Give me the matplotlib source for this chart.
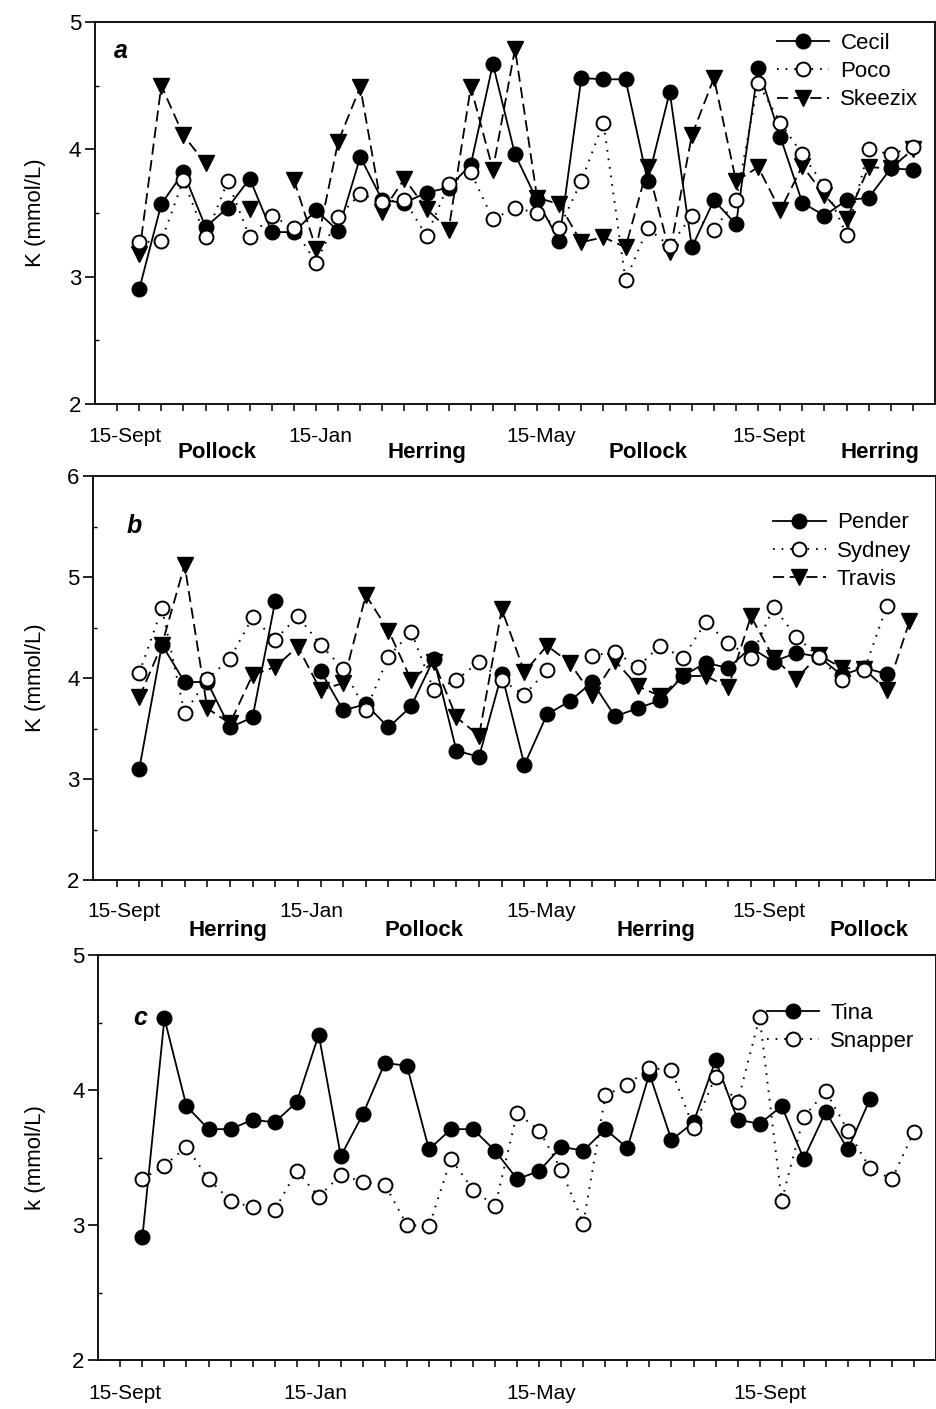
import numpy as np
import matplotlib
matplotlib.use("Agg")
import matplotlib.pyplot as plt

plt.rcParams['font.family'] = ['Liberation Sans', 'DejaVu Sans']
plt.rcParams['lines.scale_dashes'] = False

nan = np.nan

# ---------------- Panel a ----------------
cecil = [2.90, 3.57, 3.82, 3.39, 3.54, 3.77, 3.35, 3.35, 3.52, 3.36, 3.94, 3.60,
         3.58, 3.66, 3.70, 3.88, 4.67, 3.96, 3.60, 3.28, 4.56, 4.55, 4.55, 3.75,
         4.45, 3.23, 3.60, 3.41, 4.64, 4.10, 3.58, 3.48, 3.60, 3.62, 3.85, 3.84]
poco = [3.27, 3.28, 3.76, 3.31, 3.75, 3.31, 3.48, 3.38, 3.11, 3.47, 3.65, 3.59,
        3.60, 3.32, 3.73, 3.82, 3.45, 3.54, 3.50, 3.38, 3.75, 4.21, 2.97, 3.38,
        3.24, 3.48, 3.37, 3.60, 4.52, 4.21, 3.96, 3.71, 3.33, 4.00, 3.96, 4.02]
skeezix = [3.18, 4.50, 4.11, 3.89, nan, 3.53, nan, 3.76, 3.22, 4.06, 4.49, 3.51,
           3.77, 3.53, 3.37, 4.49, 3.84, 4.79, 3.62, 3.57, 3.27, 3.31, 3.23, 3.86,
           3.19, 4.11, 4.56, 3.75, 3.86, 3.52, 3.87, 3.64, 3.45, 3.86, 3.85, 4.00]

# ---------------- Panel b ----------------
pender = [3.10, 4.33, 3.96, 3.96, 3.51, 3.61, 4.76, nan, 4.07, 3.68, 3.74, 3.51,
          3.72, 4.19, 3.28, 3.22, 4.04, 3.14, 3.64, 3.77, 3.96, 3.62, 3.70, 3.78,
          4.02, 4.15, 4.10, 4.30, 4.16, 4.25, 4.21, 4.03, 4.10, 4.04]
sydney = [4.05, 4.69, 3.65, 3.99, 4.19, 4.60, 4.38, 4.61, 4.33, 4.09, 3.68, 4.21,
          4.46, 3.88, 3.98, 4.16, 3.98, 3.83, 4.08, nan, 4.22, 4.26, 4.11, 4.32,
          4.20, 4.55, 4.35, 4.20, 4.70, 4.41, 4.21, 3.98, 4.08, 4.71]
travis = [3.81, 4.33, 5.12, 3.70, 3.55, 4.03, 4.11, 4.31, 3.88, 3.95, 4.82, 4.47,
          3.98, 4.16, 3.61, 3.43, 4.68, 4.06, 4.32, 4.15, 3.83, 4.17, 3.92, 3.82,
          4.02, 4.02, 3.91, 4.61, 4.20, 3.99, 4.23, 4.10, 4.09, 3.88, 4.56]

# ---------------- Panel c ----------------
tina = [2.91, 4.53, 3.88, 3.71, 3.71, 3.78, 3.76, 3.91, 4.41, 3.51, 3.82, 4.20,
        4.18, 3.56, 3.71, 3.71, 3.55, 3.34, 3.40, 3.58, 3.55, 3.71, 3.57, 4.12,
        3.63, 3.76, 4.22, 3.78, 3.75, 3.88, 3.49, 3.84, 3.56, 3.93]
snapper = [3.34, 3.44, 3.58, 3.34, 3.18, 3.13, 3.11, 3.40, 3.21, 3.37, 3.32, 3.30,
           3.00, 2.99, 3.49, 3.26, 3.14, 3.83, 3.70, 3.41, 3.01, 3.96, 4.04, 4.16,
           4.15, 3.72, 4.10, 3.91, 4.54, 3.18, 3.80, 3.99, 3.70, 3.42, 3.34, 3.69]

# Axis labels (sampling-period positions)
date_labels = ['15-Sept', '15-Jan', '15-May', '15-Sept']
date_pos_a = [-0.65, 8.2, 18.2, 28.5]
date_pos_b = [-0.66, 7.6, 17.75, 27.8]
date_pos_c = [-0.8, 7.86, 18.1, 28.45]
diet_labels_a = ['Pollock', 'Herring', 'Pollock', 'Herring']
diet_pos_a = [3.5, 13.0, 23.0, 33.5]
diet_labels_b = ['Herring', 'Pollock', 'Herring', 'Pollock']
diet_pos_b = [3.9, 12.55, 22.8, 32.2]

fig = plt.figure(figsize=(9.37, 14.09), dpi=100)
W, H = 937.0, 1409.0


def make_ax(l, r, t, b):
    return fig.add_axes([l / W, 1 - b / H, (r - l) / W, (b - t) / H])


axa = make_ax(95, 935, 22, 404)
axb = make_ax(93.3, 936, 476, 880)
axc = make_ax(98.3, 936, 955, 1360)

LW = 1.3
solid_kw = dict(color='black', lw=LW, marker='o', ms=10.5, mfc='black', mec='black')
open_kw = dict(color='black', lw=1.4, ls=(0, (1.2, 5.0)), marker='o', ms=10,
               mfc='white', mec='black', mew=1.4)
tri_kw = dict(color='black', lw=LW, ls=(0, (8, 4)), marker='v', ms=11.5,
              mfc='black', mec='black')


def style(ax, ylim, ylabel, ticks_x, xlim, lab_x):
    ax.set_xlim(*xlim)
    ax.set_ylim(*ylim)
    ax.set_yticks(np.arange(ylim[0], ylim[1] + 0.01, 1))
    ax.set_yticks(np.arange(ylim[0], ylim[1] + 0.01, 0.5), minor=True)
    ax.set_xticks(ticks_x)
    ax.set_xticklabels([])
    ax.tick_params(axis='y', which='major', direction='out', length=7, width=1.2,
                   labelsize=16, pad=3)
    ax.tick_params(axis='y', which='minor', direction='in', length=3, width=1.0)
    ax.tick_params(axis='x', which='major', direction='out', length=5, width=1.1)
    for s in ax.spines.values():
        s.set_linewidth(1.3)
    ax.set_ylabel(ylabel, fontsize=16)
    ax.yaxis.set_label_coords(lab_x, 0.5)


def add_labels(ax, labels, pos, bold, dy):
    for lab, p in zip(labels, pos):
        ax.annotate(lab, xy=(p, 0), xycoords=('data', 'axes fraction'),
                    xytext=(0, -dy), textcoords='offset points',
                    ha='center', va='baseline', fontsize=16 if bold else 15,
                    fontweight='bold' if bold else 'normal')


leg_kw = dict(loc='upper left', frameon=False, fontsize=16, handlelength=2.35,
              handletextpad=0.5, labelspacing=0.33, borderpad=0,
              borderaxespad=0, numpoints=1)

# Panel a
axa.plot(np.arange(len(cecil)), cecil, label='Cecil', **solid_kw, zorder=3)
axa.plot(np.arange(len(poco)), poco, label='Poco', **open_kw, zorder=4)
axa.plot(np.arange(len(skeezix)), skeezix, label='Skeezix', **tri_kw, zorder=2)
style(axa, (2, 5), 'K (mmol/L)', np.arange(-1, 36), (-2.0, 36.0), -0.058)
add_labels(axa, date_labels, date_pos_a, False, 27)
add_labels(axa, diet_labels_a, diet_pos_a, True, 39)
axa.text(0.022, 0.925, 'a', transform=axa.transAxes, fontsize=18,
         fontweight='bold', fontstyle='italic', ha='left', va='center')
axa.legend(bbox_to_anchor=(0.812, 0.972), **leg_kw)

# Panel b
axb.plot(np.arange(len(pender)), pender, label='Pender', **solid_kw, zorder=3)
axb.plot(np.arange(len(sydney)), sydney, label='Sydney', **open_kw, zorder=4)
axb.plot(np.arange(len(travis)), travis, label='Travis', **tri_kw, zorder=2)
style(axb, (2, 6), 'K (mmol/L)', np.arange(-1, 35), (-2.03, 35.17), -0.056)
add_labels(axb, date_labels, date_pos_b, False, 27)
add_labels(axb, diet_labels_b, diet_pos_b, True, 40)
axb.text(0.04, 0.875, 'b', transform=axb.transAxes, fontsize=18,
         fontweight='bold', fontstyle='italic', ha='left', va='center')
axb.legend(bbox_to_anchor=(0.807, 0.91), **leg_kw)

# Panel c
axc.plot(np.arange(len(tina)), tina, label='Tina', **solid_kw, zorder=3)
axc.plot(np.arange(len(snapper)), snapper, label='Snapper', **open_kw, zorder=4)
style(axc, (2, 5), 'k (mmol/L)', np.arange(-1, 36), (-2.0, 36.0), -0.062)
add_labels(axc, date_labels, date_pos_c, False, 28)
axc.text(0.042, 0.845, 'c', transform=axc.transAxes, fontsize=18,
         fontweight='bold', fontstyle='italic', ha='left', va='center')
axc.legend(bbox_to_anchor=(0.798, 0.882), **leg_kw)

fig.savefig('out.png', dpi=100)
